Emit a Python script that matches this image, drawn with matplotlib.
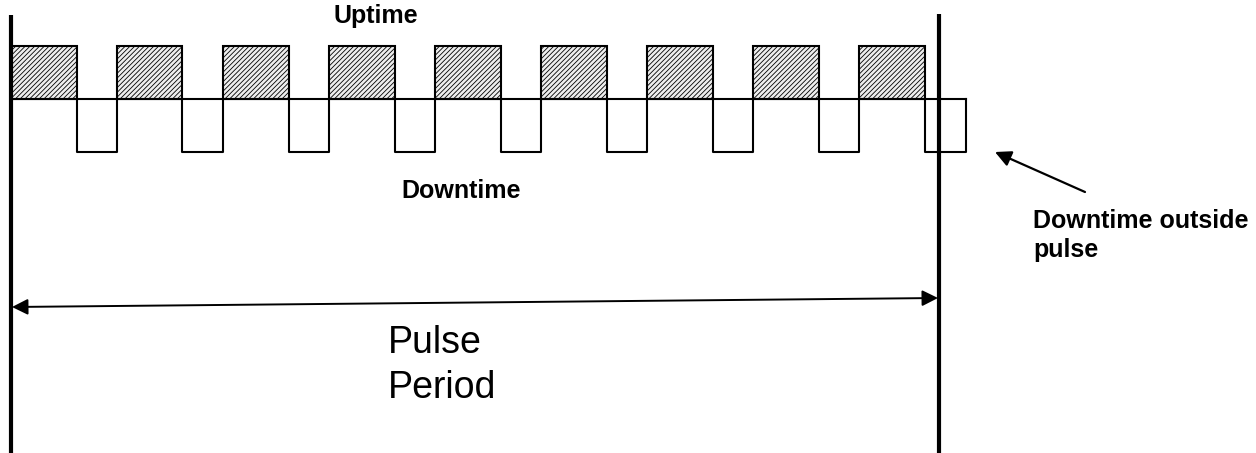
import numpy as np
import matplotlib
matplotlib.use('Agg')
import matplotlib.pyplot as plt
from matplotlib.patches import Rectangle

plt.rcParams['font.family'] = ['Liberation Sans', 'DejaVu Sans']
plt.rcParams['hatch.linewidth'] = 0.6

# timing of the signal (x in image units)
up_start = [11, 117, 223, 329, 435, 541, 647, 753, 859]
up_end = [77, 182, 289, 395, 501, 607, 713, 819, 925]
down_start = [77, 182, 289, 395, 501, 607, 713, 819, 925]
down_end = [117, 223, 329, 435, 541, 647, 753, 859, 966]
pulse_start = 11
pulse_end = 939

# levels
y_high = 46
y_base = 99
y_low = 152

fig = plt.figure(figsize=(12.56, 4.53), dpi=100)
ax = fig.add_axes([0, 0, 1, 1])
ax.set_xlim(0, 1256)
ax.set_ylim(453, 0)
ax.axis('off')

# uptime boxes (hatched)
for s, e in zip(up_start, up_end):
    ax.add_patch(Rectangle((s, y_high), e - s, y_base - y_high, facecolor='#eeeeee',
                           edgecolor='black', hatch='///////', linewidth=1.5))

# downtime trace
ax.plot([pulse_start, down_end[-1]], [y_base, y_base], color='black', lw=1.5)
for s, e in zip(down_start, down_end):
    ax.plot([s, s, e, e], [y_base, y_low, y_low, y_base], color='black', lw=1.5)

# pulse borders
ax.plot([pulse_start, pulse_start], [15, 453], color='black', lw=3, solid_capstyle='butt')
ax.plot([pulse_end, pulse_end], [14, 453], color='black', lw=3, solid_capstyle='butt')

# period arrow
ax.annotate('', xy=(pulse_start + 1, 307), xytext=(pulse_end - 1, 298),
            arrowprops=dict(arrowstyle='<|-|>', color='black', lw=1.4,
                            mutation_scale=24, shrinkA=0, shrinkB=0))

# pointer to outside downtime
ax.annotate('', xy=(995, 152), xytext=(1085, 192),
            arrowprops=dict(arrowstyle='-|>', color='black', lw=1.6,
                            mutation_scale=24, shrinkA=0, shrinkB=0))

ax.text(376, 23, 'Uptime', ha='center', va='baseline', fontsize=18, fontweight='bold')
ax.text(461, 198, 'Downtime', ha='center', va='baseline', fontsize=18, fontweight='bold')
ax.text(1033, 228, 'Downtime outside', ha='left', va='baseline', fontsize=18, fontweight='bold')
ax.text(1033, 257, 'pulse', ha='left', va='baseline', fontsize=18, fontweight='bold')
ax.text(388, 353, 'Pulse', ha='left', va='baseline', fontsize=27)
ax.text(388, 398, 'Period', ha='left', va='baseline', fontsize=27)

fig.savefig('out.png', dpi=100, facecolor='white')
